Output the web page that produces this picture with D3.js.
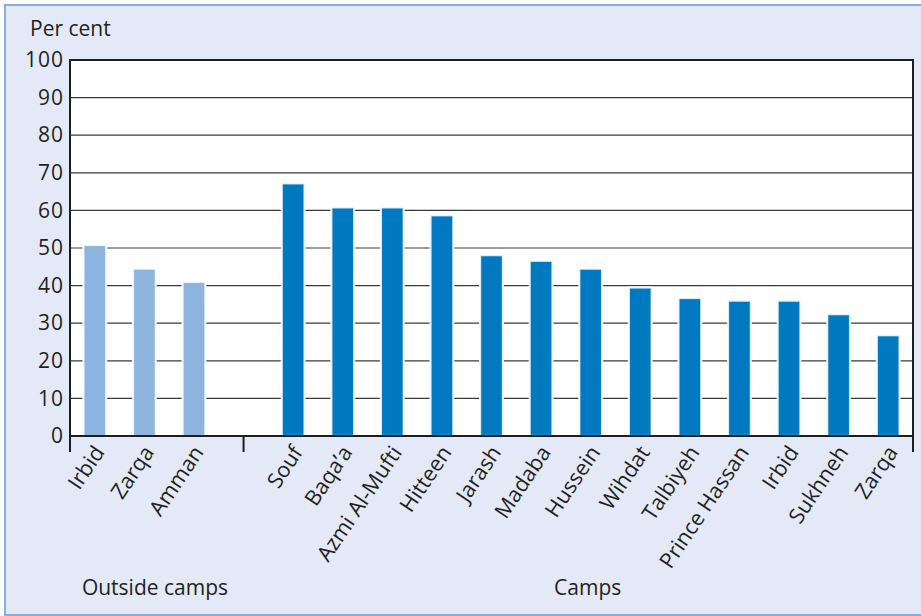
<!DOCTYPE html>
<html>
<head>
<meta charset="utf-8">
<script src="https://cdn.jsdelivr.net/npm/d3@7"></script>
<style>
  html, body { margin: 0; padding: 0; background: #ffffff; }
  svg { display: block; font-family: "Open Sans", "Noto Sans", sans-serif; }
</style>
</head>
<body>
<svg id="chart" width="921" height="616"></svg>
<script>
// Share of households (per cent), outside camps and in camps
const outsideNames = ["Irbid", "Zarqa", "Amman"];
const outsideValues = [50.8, 44.5, 41.0];

const campNames = ["Souf", "Baqa\u2019a", "Azmi Al-Mufti", "Hitteen", "Jarash", "Madaba",
  "Hussein", "Wihdat", "Talbiyeh", "Prince Hassan", "Irbid", "Sukhneh", "Zarqa"];
const campValues = [67.2, 60.8, 60.8, 58.7, 48.1, 46.6, 44.5, 39.5, 36.7, 36.0, 36.0, 32.4, 26.8];

const groupLabels = ["Outside camps", "Camps"];
const yTicks = [0, 10, 20, 30, 40, 50, 60, 70, 80, 90, 100];
const yTitle = "Per cent";

const colorOutside = "#8db3df";
const colorCamp = "#0079c1";
const ink = "#231f20";

// Build rows: outside group, one empty slot, then the camps
const rows = [];
outsideNames.forEach((n, i) => rows.push({ key: "o" + i, name: n, value: outsideValues[i], group: 0 }));
const gapKey = "gap";
campNames.forEach((n, i) => rows.push({ key: "c" + i, name: n, value: campValues[i], group: 1 }));
const domain = [...rows.slice(0, outsideNames.length).map(d => d.key), gapKey,
  ...rows.slice(outsideNames.length).map(d => d.key)];

const svg = d3.select("#chart");
const W = 921, H = 616;
const plot = { left: 70, right: 913, top: 60, bottom: 436 };

// Panel background and frame
svg.append("rect").attr("x", 0).attr("y", 0).attr("width", W).attr("height", H).attr("fill", "#ffffff");
svg.append("rect").attr("x", 5).attr("y", 5).attr("width", W + 10).attr("height", 610)
  .attr("fill", "#e3e9f6").attr("stroke", "#8aaedc").attr("stroke-width", 2);

const x = d3.scaleBand().domain(domain).range([plot.left, plot.right])
  .paddingInner(0.56).paddingOuter(0.28);
const y = d3.scaleLinear().domain([0, 100]).range([plot.bottom, plot.top]);

// Plot area
svg.append("rect").attr("x", plot.left).attr("y", plot.top)
  .attr("width", plot.right - plot.left).attr("height", plot.bottom - plot.top)
  .attr("fill", "#ffffff");

// Gridlines
svg.append("g").selectAll("line").data(yTicks.filter(t => t > 0 && t < 100)).join("line")
  .attr("x1", plot.left).attr("x2", plot.right)
  .attr("y1", d => y(d)).attr("y2", d => y(d))
  .attr("stroke", "#3a3a3a").attr("stroke-width", 1.2);

// Bars
svg.append("g").selectAll("rect").data(rows).join("rect")
  .attr("x", d => x(d.key) - 0.5)
  .attr("width", x.bandwidth() + 1)
  .attr("y", d => y(d.value))
  .attr("height", d => y(0) - y(d.value))
  .attr("fill", d => d.group === 0 ? colorOutside : colorCamp)
  .attr("stroke", "#ffffff").attr("stroke-width", 2.2).attr("stroke-opacity", 0.85);

// Frame of plot: top and right border
svg.append("path")
  .attr("d", `M${plot.left},${plot.top}H${plot.right}V${plot.bottom}`)
  .attr("fill", "none").attr("stroke", "#1e1e1e").attr("stroke-width", 2);

// Y axis
const yAxis = d3.axisLeft(y).tickValues(yTicks).tickSize(0).tickPadding(6);
const gy = svg.append("g").attr("transform", `translate(${plot.left},0)`).call(yAxis);
gy.select(".domain").remove();
gy.selectAll("text").attr("font-size", 21).attr("letter-spacing", 1).attr("fill", ink)
  .attr("font-family", "'Open Sans', 'Noto Sans', sans-serif");
svg.append("line").attr("x1", plot.left).attr("x2", plot.left)
  .attr("y1", plot.top - 1).attr("y2", plot.bottom + 16)
  .attr("stroke", "#1e1e1e").attr("stroke-width", 2);

// X axis baseline and group separators
svg.append("line").attr("x1", plot.left).attr("x2", plot.right)
  .attr("y1", plot.bottom).attr("y2", plot.bottom)
  .attr("stroke", "#1e1e1e").attr("stroke-width", 2.2);
const sepX = [plot.left, x(gapKey) + x.bandwidth() / 2, plot.right];
svg.append("g").selectAll("line").data(sepX).join("line")
  .attr("x1", d => d).attr("x2", d => d)
  .attr("y1", plot.bottom).attr("y2", plot.bottom + 16)
  .attr("stroke", "#1e1e1e").attr("stroke-width", 2);

// Category labels, rotated
svg.append("g").selectAll("text").data(rows).join("text")
  .attr("transform", d => `translate(${x(d.key) + x.bandwidth() / 2 - 2},${plot.bottom + 8}) rotate(-56)`)
  .attr("text-anchor", "end")
  .attr("dy", "0.7em")
  .attr("font-size", 21.5)
  .attr("fill", ink)
  .text(d => d.name);

// Group labels
const outKeys = domain.slice(0, outsideNames.length);
svg.append("text")
  .attr("x", x(outKeys[0]) - 2).attr("y", 595)
  .attr("font-size", 21).attr("fill", ink)
  .text(groupLabels[0]);
const campKeys = domain.slice(outsideNames.length + 1);
svg.append("text")
  .attr("x", (x(campKeys[0]) + x(campKeys[campKeys.length - 1]) + x.bandwidth()) / 2 - 3)
  .attr("y", 595).attr("text-anchor", "middle")
  .attr("font-size", 21).attr("fill", ink)
  .text(groupLabels[1]);

// Y title
svg.append("text").attr("x", 30).attr("y", 36)
  .attr("font-size", 21).attr("fill", ink).text(yTitle);
</script>
</body>
</html>
